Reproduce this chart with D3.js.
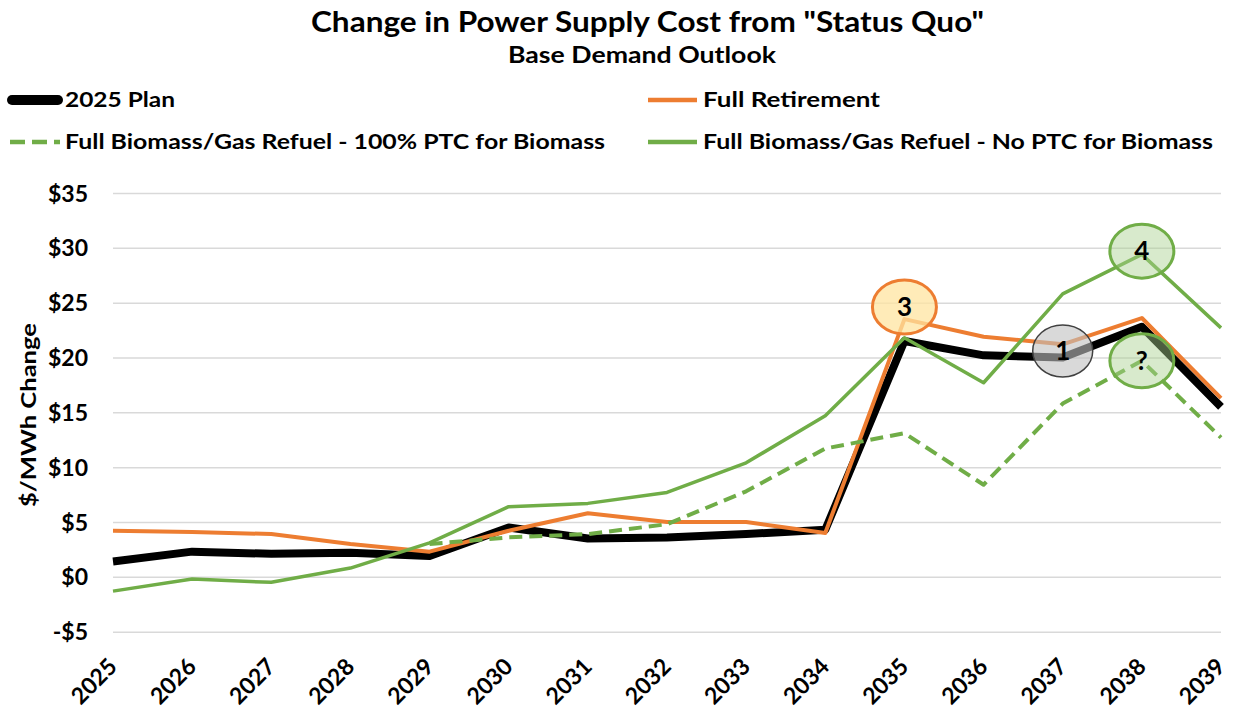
<!DOCTYPE html>
<html>
<head>
<meta charset="utf-8">
<script src="https://cdn.jsdelivr.net/npm/d3@7"></script>
<style>
  body { margin: 0; background: #fff; }
  svg text { font-family: Lato, "Open Sans", sans-serif; font-weight: 700; fill: #000; }
</style>
</head>
<body>
<div id="chart"></div>
<script>
// data
const years = [2025, 2026, 2027, 2028, 2029, 2030, 2031, 2032, 2033, 2034, 2035, 2036, 2037, 2038, 2039];
const plan2025 = [1.4, 2.3, 2.1, 2.2, 1.9, 4.5, 3.5, 3.6, 3.9, 4.3, 21.5, 20.2, 20.0, 22.8, 15.5];
const fullRetirement = [4.2, 4.1, 3.9, 3.0, 2.3, 4.2, 5.8, 5.0, 5.0, 4.0, 23.5, 21.9, 21.2, 23.6, 16.3];
const biomassPTC = [null, null, null, null, 3.0, 3.6, 3.9, 4.8, 7.8, 11.7, 13.1, 8.4, 15.8, 19.7, 12.7];
const biomassNoPTC = [-1.3, -0.2, -0.5, 0.8, 3.1, 6.4, 6.7, 7.7, 10.4, 14.7, 21.8, 17.7, 25.8, 29.4, 22.7];
const yTicks = [-5, 0, 5, 10, 15, 20, 25, 30, 35];

const seriesNames = ['2025 Plan', 'Full Retirement', 'Full Biomass/Gas Refuel - 100% PTC for Biomass', 'Full Biomass/Gas Refuel - No PTC for Biomass'];

// callouts
const calloutLabels = ['3', '1', '4', '?'];
const calloutYears = [2035, 2037, 2038, 2038];
const calloutValues = [24.6, 20.6, 29.7, 19.7];

const w = 1233;
const h = 714;

const series = [
  { name: seriesNames[0], values: plan2025, color: '#000000', width: 8, dash: null },
  { name: seriesNames[1], values: fullRetirement, color: '#ED7D31', width: 4, dash: null },
  { name: seriesNames[2], values: biomassPTC, color: '#70AD47', width: 4, dash: '13,7' },
  { name: seriesNames[3], values: biomassNoPTC, color: '#70AD47', width: 3.5, dash: null }
];

const calloutStyle = {
  '3': { fill: '#FFE4A0', opacity: 0.75, stroke: '#ED7D31', sw: 3 },
  '1': { fill: '#BFBFBF', opacity: 0.6, stroke: '#404040', sw: 1.5 },
  '4': { fill: '#A9D18E', opacity: 0.45, stroke: '#70AD47', sw: 3 },
  '?': { fill: '#A9D18E', opacity: 0.45, stroke: '#70AD47', sw: 3 }
};

const svg = d3.select('#chart')
              .append('svg')
              .attr('width', w)
              .attr('height', h);

// Scales
const xScale = d3.scalePoint()
                 .domain(years)
                 .range([113, 1221]);

const yScale = d3.scaleLinear()
                 .domain([-5, 35])
                 .range([631.7, 193]);

// Titles
svg.append('text')
   .attr('x', 311)
   .attr('y', 32)
   .attr('textLength', 673)
   .attr('lengthAdjust', 'spacingAndGlyphs')
   .style('font-size', '28px')
   .text('Change in Power Supply Cost from "Status Quo"');

svg.append('text')
   .attr('x', 508)
   .attr('y', 63)
   .attr('textLength', 268)
   .attr('lengthAdjust', 'spacingAndGlyphs')
   .style('font-size', '23px')
   .text('Base Demand Outlook');

// Gridlines + y labels
const yAxis = d3.axisLeft(yScale)
                .tickValues(yTicks)
                .tickSize(-(1221 - 113))
                .tickPadding(25)
                .tickFormat(d => (d < 0 ? '-$' : '$') + Math.abs(d));

const gy = svg.append('g')
   .attr('id', 'y-axis')
   .attr('transform', 'translate(113, 0)')
   .call(yAxis);

gy.select('.domain').remove();
gy.selectAll('line').attr('stroke', '#d9d9d9').attr('stroke-width', 1.5);
gy.selectAll('text')
  .style('font-size', '23px')
  .attr('dy', '0.35em');

// x axis labels
const xAxis = d3.axisBottom(xScale).tickSize(0).tickPadding(0);

const gx = svg.append('g')
   .attr('id', 'x-axis')
   .attr('transform', 'translate(0, 668)')
   .call(xAxis);

gx.select('.domain').remove();
gx.selectAll('text')
  .style('font-size', '23px')
  .attr('text-anchor', 'end')
  .attr('y', 0)
  .attr('dy', 0)
  .attr('transform', 'translate(5, 0) rotate(-45)');

// y axis title
svg.append('text')
   .attr('transform', 'translate(29, 415) rotate(-90)')
   .attr('x', -92)
   .attr('dy', '0.35em')
   .attr('textLength', 184)
   .attr('lengthAdjust', 'spacingAndGlyphs')
   .style('font-size', '21px')
   .text('$/MWh Change');

// Lines
const line = d3.line()
               .defined(d => d.v !== null)
               .x(d => xScale(d.year))
               .y(d => yScale(d.v));

svg.selectAll('path.series')
   .data(series)
   .enter()
   .append('path')
   .attr('class', 'series')
   .attr('d', s => line(s.values.map((v, i) => ({ year: years[i], v: v }))))
   .attr('fill', 'none')
   .attr('stroke', s => s.color)
   .attr('stroke-width', s => s.width)
   .attr('stroke-dasharray', s => s.dash)
   .attr('stroke-linejoin', 'round');

// Callouts
const callouts = calloutLabels.map((l, i) => ({ label: l, year: calloutYears[i], v: calloutValues[i] }));

const cg = svg.selectAll('g.callout')
   .data(callouts)
   .enter()
   .append('g')
   .attr('class', 'callout')
   .attr('transform', d => `translate(${xScale(d.year)}, ${yScale(d.v)})`);

cg.append('ellipse')
  .attr('rx', d => d.label === '1' ? 30 : 32)
  .attr('ry', d => d.label === '1' ? 26 : 27)
  .attr('fill', d => calloutStyle[d.label].fill)
  .attr('fill-opacity', d => calloutStyle[d.label].opacity)
  .attr('stroke', d => calloutStyle[d.label].stroke)
  .attr('stroke-width', d => calloutStyle[d.label].sw);

cg.append('text')
  .attr('text-anchor', 'middle')
  .attr('dy', '0.35em')
  .style('font-size', '26px')
  .text(d => d.label);

// Legend
const legendPos = [[8, 100], [648, 100], [10, 142], [648, 142]];
const legendTextX = [57, 55, 55, 55];
const legendTextLen = [110, 177, 540, 510];

const lg = svg.selectAll('g.legend')
   .data(series)
   .enter()
   .append('g')
   .attr('class', 'legend')
   .attr('transform', (d, i) => `translate(${legendPos[i][0]}, ${legendPos[i][1]})`);

lg.append('line')
  .attr('x1', (d, i) => i === 0 ? 4 : 0)
  .attr('x2', (d, i) => i === 0 ? 50 : (i === 2 ? 50 : 49))
  .attr('stroke', d => d.color)
  .attr('stroke-width', d => d.width === 8 ? 10 : 4.5)
  .attr('stroke-linecap', d => d.width === 8 ? 'round' : 'butt')
  .attr('stroke-dasharray', d => d.dash ? '15,7' : null);

lg.append('text')
  .attr('x', (d, i) => legendTextX[i])
  .attr('dy', '0.35em')
  .attr('textLength', (d, i) => legendTextLen[i])
  .attr('lengthAdjust', 'spacingAndGlyphs')
  .style('font-size', '21px')
  .text(d => d.name);
</script>
</body>
</html>
